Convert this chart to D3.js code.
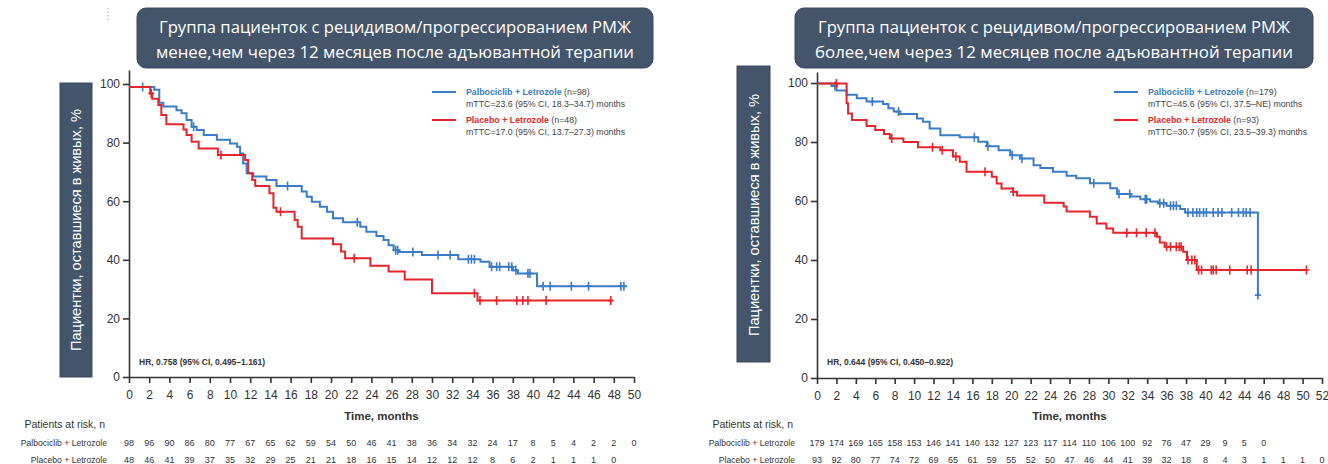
<!DOCTYPE html>
<html>
<head>
<meta charset="utf-8">
<script src="https://cdn.jsdelivr.net/npm/d3@7"></script>
<style>
  body { margin: 0; background: #fff; }
  svg { display: block; }
</style>
</head>
<body>
<svg id="chart" width="1328" height="464"></svg>
<script>
// ---------- text ----------
const titleEarly = ["Группа пациенток с рецидивом/прогрессированием РМЖ",
                    "менее,чем через 12 месяцев после адъювантной терапии"];
const titleLate  = ["Группа пациенток с рецидивом/прогрессированием РМЖ",
                    "более,чем через 12 месяцев после адъювантной терапии"];
const yAxisTitle = "Пациентки, оставшиеся в живых, %";
const xAxisTitle = "Time, months";
const riskTitle  = "Patients at risk, n";
const armNames   = ["Palbociclib + Letrozole", "Placebo + Letrozole"];

// ---------- ticks ----------
const survivalTicks = [0, 20, 40, 60, 80, 100];
const monthTicksEarly = [0,2,4,6,8,10,12,14,16,18,20,22,24,26,28,30,32,34,36,38,40,42,44,46,48,50];
const monthTicksLate  = [0,2,4,6,8,10,12,14,16,18,20,22,24,26,28,30,32,34,36,38,40,42,44,46,48,50,52];

// ---------- relapse < 12 months after adjuvant therapy ----------
const armSizesEarly = [98, 48];
const mttcEarly = ["mTTC=23.6 (95% CI, 18.3–34.7) months", "mTTC=17.0 (95% CI, 13.7–27.3) months"];
const hrEarly = "HR, 0.758 (95% CI, 0.495–1.161)";
// [month, % remaining] at each step
const palboEarly = [[0,99],[2.5,98],[3.0,93.6],[3.4,92.3],[4.7,91],[5.2,90],[5.7,87.7],[6.2,85.4],[6.7,84.3],
  [7.4,82.6],[8.7,81],[10.0,79.7],[10.7,78.6],[11.0,76.3],[11.3,72.9],[11.65,69.5],[12.3,68.4],[13.6,67.2],
  [14.6,65.2],[17.1,63.3],[17.6,61.5],[18.1,59.8],[18.9,58.1],[19.6,56.4],[20.2,54.2],[21.2,52.8],[22.9,51.3],
  [23.5,49.6],[24.5,48.1],[25.2,46.8],[25.7,45],[26.2,43.3],[26.7,42.7],[29.0,41.6],[32.6,40.2],[34.8,39.3],
  [35.7,37.6],[38.0,36.4],[38.5,35.3],[40.4,31.0],[49.3,31.0]];
const palboEarlyCensored = [1.35,6.4,15.7,22.6,26.4,26.6,28.1,30.6,31.8,33.6,33.9,34.2,35.9,36.4,36.7,37.6,37.9,
  38.3,39.5,39.7,41.0,41.7,43.8,45.5,48.7,49.0];
const placeboEarly = [[0,99],[2.1,96.8],[2.3,95],[2.9,92.8],[3.2,89.4],[3.7,86.3],[5.4,84.5],[5.7,82.6],[6.2,80.3],
  [6.9,78],[8.8,75.8],[11.5,74.1],[11.8,69.5],[12.2,67.2],[12.5,65.2],[13.9,62.7],[14.3,57.8],[14.6,56.4],
  [16.4,53.6],[16.7,51.3],[17.1,47.3],[20.2,45.3],[21.0,42.8],[21.4,40.5],[23.9,38],[25.7,36],[27.3,33.3],
  [30.0,28.6],[34.5,26.1],[47.9,26.1]];
const placeboEarlyCensored = [2.2,9.1,15.0,22.3,34.2,34.75,36.4,38.4,39.0,39.5,41.3,47.7];
const atRiskPalboEarly   = [98,96,90,86,80,77,67,65,62,59,54,50,46,41,38,36,34,32,24,17,8,5,4,2,2,0];
const atRiskPlaceboEarly = [48,46,41,39,37,35,32,29,25,21,21,18,16,15,14,12,12,12,8,6,2,1,1,1,0];

// ---------- relapse > 12 months after adjuvant therapy ----------
const armSizesLate = [179, 93];
const mttcLate = ["mTTC=45.6 (95% CI, 37.5–NE) months", "mTTC=30.7 (95% CI, 23.5–39.3) months"];
const hrLate = "HR, 0.644 (95% CI, 0.450–0.922)";
const palboLate = [[0,99.8],[1.5,99],[2.0,97.5],[3.05,96],[4.1,94.8],[5.1,93.7],[6.8,92.9],[7.35,91.4],[7.9,90.3],
  [8.5,89.5],[10.3,88],[10.9,86.9],[11.6,84.6],[12.7,82.3],[14.7,81.6],[16.6,80.1],[17.5,78.6],[18.7,77.2],
  [19.9,75.5],[20.9,74.4],[22.3,72.1],[23.0,71.2],[24.3,69.9],[25.7,68.6],[26.7,67.7],[28.1,66],[30.2,64.3],
  [30.9,62.4],[32.3,61.5],[33.3,60.6],[34.3,59.8],[35.1,59.2],[36.0,58.4],[37.4,57.3],[37.9,56.1],[45.4,28.1]];
const palboLateCensored = [1.85,5.7,8.4,16.2,17.6,20.1,21.1,28.5,31.1,32.2,33.8,33.95,35.3,35.7,36.4,36.7,37.0,
  38.2,38.7,39.1,39.4,39.8,40.1,40.8,41.3,41.7,42.7,43.4,43.9,44.2,44.6,45.4];
const placeboLate = [[0,99.8],[3.05,93.1],[3.2,89.7],[3.6,87.5],[5.1,85.4],[6.0,84.1],[6.9,82.7],[7.5,81.2],
  [8.9,80],[10.4,78.2],[12.7,77.2],[14.0,75.1],[14.7,73.3],[15.4,69.9],[18.0,68.2],[18.5,65.9],[19.0,64.2],
  [20.2,63.1],[20.6,61.9],[23.4,59.4],[25.4,58.1],[25.7,56.4],[28.1,54.7],[28.8,52.4],[29.8,50.7],[30.5,49.2],
  [35.0,47.9],[35.3,45.9],[35.8,44.5],[37.7,42.8],[38.1,40],[39.1,36.6],[50.5,36.6]];
const placeboLateCensored = [2.0,7.7,11.9,12.9,14.3,17.3,20.2,31.9,32.9,33.9,34.8,36.0,36.4,37.0,37.3,37.5,
  38.2,38.6,38.9,39.3,39.6,40.6,40.8,41.1,42.5,44.3,44.7,50.4];
const atRiskPalboLate   = [179,174,169,165,158,153,146,141,140,132,127,123,117,114,110,106,100,92,76,47,29,9,5,0];
const atRiskPlaceboLate = [93,92,80,77,74,72,69,65,61,59,55,52,50,47,46,44,41,39,32,18,8,4,3,1,1,1,0];

// ---------- styling ----------
const BOX = "#44546A";
const COLORS = ["#3b7cc6", "#e4252c"];
const FONT = "'Liberation Sans', Arial, sans-serif";
const TITLE_FONT = "'Open Sans', 'Noto Sans', sans-serif";

const svg = d3.select("#chart");
svg.append("rect").attr("width", 1328).attr("height", 464).attr("fill", "#fff");

// survival level of a step curve at month t
function levelAt(curve, t) {
  let v = curve[0][1];
  for (const p of curve) { if (p[0] <= t) v = p[1]; else break; }
  return v;
}

function drawPanel(cfg) {
  const g = svg.append("g");
  const x = d3.scaleLinear().domain([0, cfg.monthTicks[cfg.monthTicks.length - 1]]).range([cfg.x0, cfg.x1]);
  const y = d3.scaleLinear().domain([0, cfg.yTop]).range([cfg.y0, cfg.yAxisTop]);

  // title box
  g.append("rect").attr("x", cfg.title.x).attr("y", 8).attr("width", cfg.title.w).attr("height", 60)
    .attr("rx", 9).attr("fill", BOX).attr("stroke", "#3a4960").attr("stroke-width", 1);
  cfg.titleLines.forEach((line, i) => {
    g.append("text").attr("x", cfg.title.x + cfg.title.w / 2).attr("y", 33 + i * 25)
      .attr("text-anchor", "middle").attr("fill", "#fff").attr("font-family", TITLE_FONT)
      .attr("font-size", 16.5).attr("textLength", cfg.title.tl[i]).attr("lengthAdjust", "spacingAndGlyphs")
      .text(line);
  });

  // vertical axis title box
  const yb = cfg.yBox;
  g.append("rect").attr("x", yb.x).attr("y", yb.y).attr("width", yb.w).attr("height", yb.h)
    .attr("fill", BOX).attr("stroke", "#3a4960");
  g.append("text").attr("transform", `translate(${yb.x + yb.w / 2 + 5},${yb.ty}) rotate(-90)`)
    .attr("text-anchor", "middle").attr("fill", "#fff").attr("font-family", FONT).attr("font-size", 15)
    .attr("textLength", 242).attr("lengthAdjust", "spacingAndGlyphs").text(yAxisTitle);

  // axes
  const xAxis = g.append("g").attr("transform", `translate(0,${cfg.y0})`)
    .call(d3.axisBottom(x).tickValues(cfg.monthTicks).tickSize(6).tickSizeOuter(0).tickPadding(7));
  const yAxis = g.append("g").attr("transform", `translate(${cfg.x0},0)`)
    .call(d3.axisLeft(y).tickValues(survivalTicks).tickSize(6).tickSizeOuter(0).tickPadding(3));
  [xAxis, yAxis].forEach(a => {
    a.select(".domain").attr("stroke", "#333").attr("stroke-width", 1.6);
    a.selectAll(".tick line").attr("stroke", "#333").attr("stroke-width", 1.6);
    a.selectAll(".tick text").attr("fill", "#333").attr("font-family", FONT).attr("font-size", 12);
  });

  // curves with censoring crosses
  const line = d3.line().x(d => x(d[0])).y(d => y(d[1])).curve(d3.curveStepAfter);
  cfg.arms.forEach((arm, i) => {
    g.append("path").datum(arm.curve).attr("d", line).attr("fill", "none")
      .attr("stroke", COLORS[i]).attr("stroke-width", 2);
    const marks = g.selectAll(null).data(arm.censored).join("path")
      .attr("d", d => {
        const cx = x(d), cy = y(levelAt(arm.curve, d));
        return `M${cx},${cy - 4.5}V${cy + 4.5}M${cx - 3},${cy}H${cx + 3}`;
      })
      .attr("fill", "none").attr("stroke", COLORS[i]).attr("stroke-width", 1.6);
  });

  // legend
  cfg.arms.forEach((arm, i) => {
    const ly = 92 + i * 28;
    g.append("line").attr("x1", cfg.legend.x).attr("x2", cfg.legend.x + 24).attr("y1", ly).attr("y2", ly)
      .attr("stroke", COLORS[i]).attr("stroke-width", 2);
    const t = g.append("text").attr("x", cfg.legend.x + 34).attr("y", ly + 3)
      .attr("font-family", FONT).attr("font-size", 8.8);
    t.append("tspan").attr("font-weight", "bold").attr("fill", COLORS[i]).text(armNames[i]);
    t.append("tspan").attr("fill", "#444").text(` (n=${cfg.sizes[i]})`);
    g.append("text").attr("x", cfg.legend.x + 34).attr("y", ly + 15).attr("font-family", FONT)
      .attr("font-size", 8.8).attr("fill", "#444").text(cfg.mttc[i]);
  });

  // hazard ratio
  g.append("text").attr("x", cfg.x0 + 10).attr("y", 365).attr("font-family", FONT).attr("font-size", 8.5)
    .attr("font-weight", "bold").attr("fill", "#333").text(cfg.hr);

  // x axis title
  g.append("text").attr("x", (cfg.x0 + cfg.x1) / 2).attr("y", 420).attr("text-anchor", "middle")
    .attr("font-family", FONT).attr("font-size", 11.5).attr("font-weight", "bold").attr("fill", "#333")
    .text(xAxisTitle);

  // patients at risk table
  g.append("text").attr("x", cfg.riskLabelX).attr("y", 428).attr("text-anchor", "end")
    .attr("font-family", FONT).attr("font-size", 10.5).attr("fill", "#333").text(riskTitle);
  cfg.arms.forEach((arm, i) => {
    const ry = 446 + i * 16.5;
    g.append("text").attr("x", cfg.riskLabelX + 2).attr("y", ry).attr("text-anchor", "end")
      .attr("font-family", FONT).attr("font-size", 8.6).attr("fill", "#333").text(armNames[i]);
    g.selectAll(null).data(arm.atRisk).join("text")
      .attr("x", (d, k) => x(cfg.monthTicks[k])).attr("y", ry).attr("text-anchor", "middle")
      .attr("font-family", FONT).attr("font-size", 9).attr("fill", "#333").text(d => d);
  });
}

// small dotted mark above the left panel
svg.append("line").attr("x1", 108).attr("x2", 108).attr("y1", 8).attr("y2", 22)
  .attr("stroke", "#bbb").attr("stroke-width", 1.2).attr("stroke-dasharray", "1.5,2");

drawPanel({
  titleLines: titleEarly, title: { x: 137, w: 516, tl: [472, 478] },
  yBox: { x: 60, y: 83, w: 32, h: 294, ty: 230 },
  x0: 129, x1: 634, y0: 377, yAxisTop: 70, yTop: (377 - 70) / 2.93,
  monthTicks: monthTicksEarly, sizes: armSizesEarly, mttc: mttcEarly, hr: hrEarly,
  legend: { x: 432 }, riskLabelX: 105,
  arms: [
    { curve: palboEarly, censored: palboEarlyCensored, atRisk: atRiskPalboEarly },
    { curve: placeboEarly, censored: placeboEarlyCensored, atRisk: atRiskPlaceboEarly }
  ]
});

drawPanel({
  titleLines: titleLate, title: { x: 795, w: 518, tl: [472, 478] },
  yBox: { x: 737, y: 66, w: 33, h: 296, ty: 215 },
  x0: 817, x1: 1322, y0: 378, yAxisTop: 72, yTop: (378 - 72) / 2.95,
  monthTicks: monthTicksLate, sizes: armSizesLate, mttc: mttcLate, hr: hrLate,
  legend: { x: 1114 }, riskLabelX: 793,
  arms: [
    { curve: palboLate, censored: palboLateCensored, atRisk: atRiskPalboLate },
    { curve: placeboLate, censored: placeboLateCensored, atRisk: atRiskPlaceboLate }
  ]
});
</script>
</body>
</html>
